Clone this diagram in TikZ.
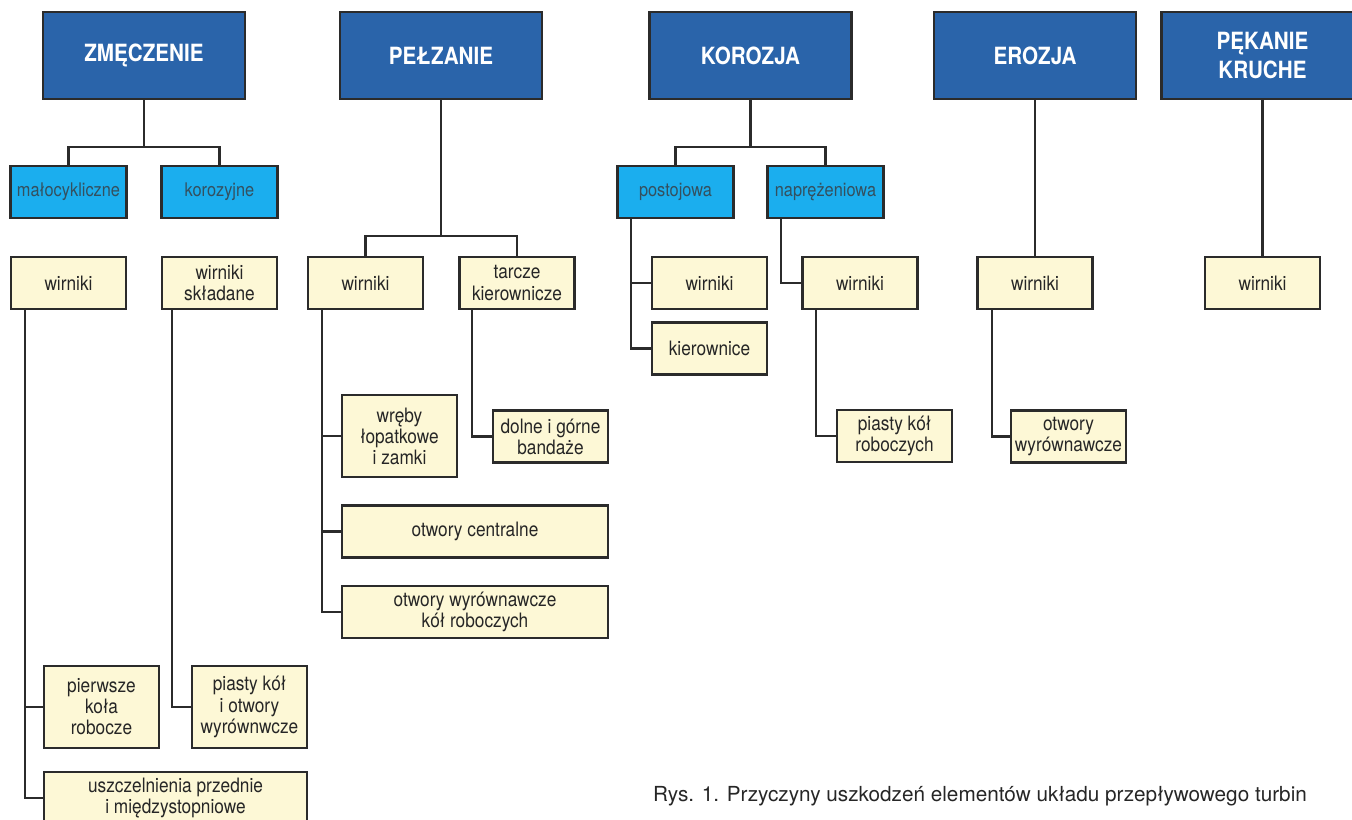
\documentclass[tikz,border=0pt]{standalone}
\usepackage{fontspec}
\setmainfont[FakeStretch=0.87]{TeX Gyre Heros}
\newfontfamily\capfont{TeX Gyre Heros}
\usetikzlibrary{positioning}
\definecolor{glowny}{HTML}{2A64AA}
\definecolor{podtyp}{HTML}{1BAEEE}
\definecolor{element}{HTML}{FDF8D6}
\definecolor{kreska}{HTML}{2B2B2B}
\definecolor{podtekst}{HTML}{34505F}

\tikzset{
  przyczyna/.style={draw=kreska, line width=1.5pt, fill=glowny, text=white,
    font=\fontsize{13.5}{16}\selectfont\bfseries, minimum width=4.04cm,
    minimum height=1.74cm, align=center, inner sep=2pt},
  rodzaj/.style={draw=kreska, line width=1.5pt, fill=podtyp, text=podtekst,
    font=\fontsize{10.7}{12}\selectfont, minimum width=2.32cm,
    minimum height=1.04cm, inner sep=1pt},
  czesc/.style={draw=kreska, line width=1.5pt, fill=element, text=black!85,
    font=\fontsize{11.3}{12}\selectfont, minimum width=2.3cm,
    minimum height=1.04cm, align=center, inner sep=2pt},
  galaz/.style={draw=kreska, line width=1.3pt},
}

\begin{document}
\begin{tikzpicture}[x=0.02cm, y=-0.02cm]
    \useasboundingbox (0,0) rectangle (1352,820);

    % przyczyny
    \node[przyczyna] (zm) at (144,55.5) {ZMĘCZENIE};
    \node[przyczyna] (pe) at (441,55.5) {PEŁZANIE};
    \node[przyczyna] (ko) at (750.5,55.5) {KOROZJA};
    \node[przyczyna] (er) at (1035,55.5) {EROZJA};
    \node[przyczyna] (pk) at (1262.5,55.5) {PĘKANIE\\KRUCHE};

    % rodzaje
    \node[rodzaj] (malo) at (68.5,192) {małocykliczne};
    \node[rodzaj] (koroz) at (219.5,192) {korozyjne};
    \node[rodzaj] (post) at (675.5,192) {postojowa};
    \node[rodzaj] (napr) at (825.5,192) {naprężeniowa};

    % elementy
    \node[czesc] (w1) at (68.5,283) {wirniki};
    \node[czesc] (ws) at (219.5,283) {wirniki\\składane};
    \node[czesc] (w2) at (365.5,283) {wirniki};
    \node[czesc] (tk) at (517,283) {tarcze\\kierownicze};
    \node[czesc] (w3) at (709.5,283) {wirniki};
    \node[czesc] (kier) at (709.5,348.5) {kierownice};
    \node[czesc] (w4) at (860,283) {wirniki};
    \node[czesc] (w5) at (1035,283) {wirniki};
    \node[czesc] (w6) at (1262.5,283) {wirniki};

    \node[czesc, minimum height=1.64cm] (wreby) at (399.5,436) {wręby\\łopatkowe\\i zamki};
    \node[czesc] (dolne) at (550.5,436.5) {dolne i górne\\bandaże};
    \node[czesc, minimum width=5.32cm] (otcen) at (475,531.5) {otwory centralne};
    \node[czesc, minimum width=5.32cm] (otwyr) at (475,612) {otwory wyrównawcze\\kół roboczych};
    \node[czesc] (piasty2) at (894.5,436) {piasty kół\\roboczych};
    \node[czesc] (otwer) at (1068.5,436.5) {otwory\\wyrównawcze};
    \node[czesc, minimum height=1.64cm] (pierw) at (101.5,707) {pierwsze\\koła\\robocze};
    \node[czesc, minimum height=1.64cm] (piasty1) at (249.5,707) {piasty kół\\i otwory\\wyrównwcze};
    \node[czesc, minimum width=5.26cm] (uszcz) at (175.5,798) {uszczelnienia przednie\\i międzystopniowe};

    \node[font=\capfont\fontsize{11.8}{13}\selectfont, text=black!85] (podpis) at (980,796)
      {Rys. 1. Przyczyny uszkodzeń elementów układu przepływowego turbin};

    % galezie
    \draw[galaz] (zm.south) -- +(0,47) -| (malo.north);
    \draw[galaz] (zm.south) -- +(0,47) -| (koroz.north);
    \draw[galaz] (pe.south) -- +(0,136) -| (w2.north);
    \draw[galaz] (pe.south) -- +(0,136) -| (tk.north);
    \draw[galaz] (ko.south) -- +(0,47) -| (post.north);
    \draw[galaz] (ko.south) -- +(0,47) -| (napr.north);
    \draw[galaz] (er.south) -- (w5.north);
    \draw[galaz] (pk.south) -- (w6.north);

    \draw[galaz] ([xshift=0.3cm]w1.south west) |- (pierw.west);
    \draw[galaz] ([xshift=0.3cm]w1.south west) |- (uszcz.west);
    \draw[galaz] ([xshift=0.22cm]ws.south west) |- (piasty1.west);
    \draw[galaz] ([xshift=0.3cm]w2.south west) |- (wreby.west);
    \draw[galaz] ([xshift=0.3cm]w2.south west) |- (otcen.west);
    \draw[galaz] ([xshift=0.3cm]w2.south west) |- (otwyr.west);
    \draw[galaz] ([xshift=0.28cm]tk.south west) |- (dolne.west);
    \draw[galaz] ([xshift=0.3cm]post.south west) |- (w3.west);
    \draw[galaz] ([xshift=0.3cm]post.south west) |- (kier.west);
    \draw[galaz] ([xshift=0.3cm]napr.south west) |- (w4.west);
    \draw[galaz] ([xshift=0.3cm]w4.south west) |- (piasty2.west);
    \draw[galaz] ([xshift=0.32cm]w5.south west) |- (otwer.west);

\end{tikzpicture}
\end{document}
